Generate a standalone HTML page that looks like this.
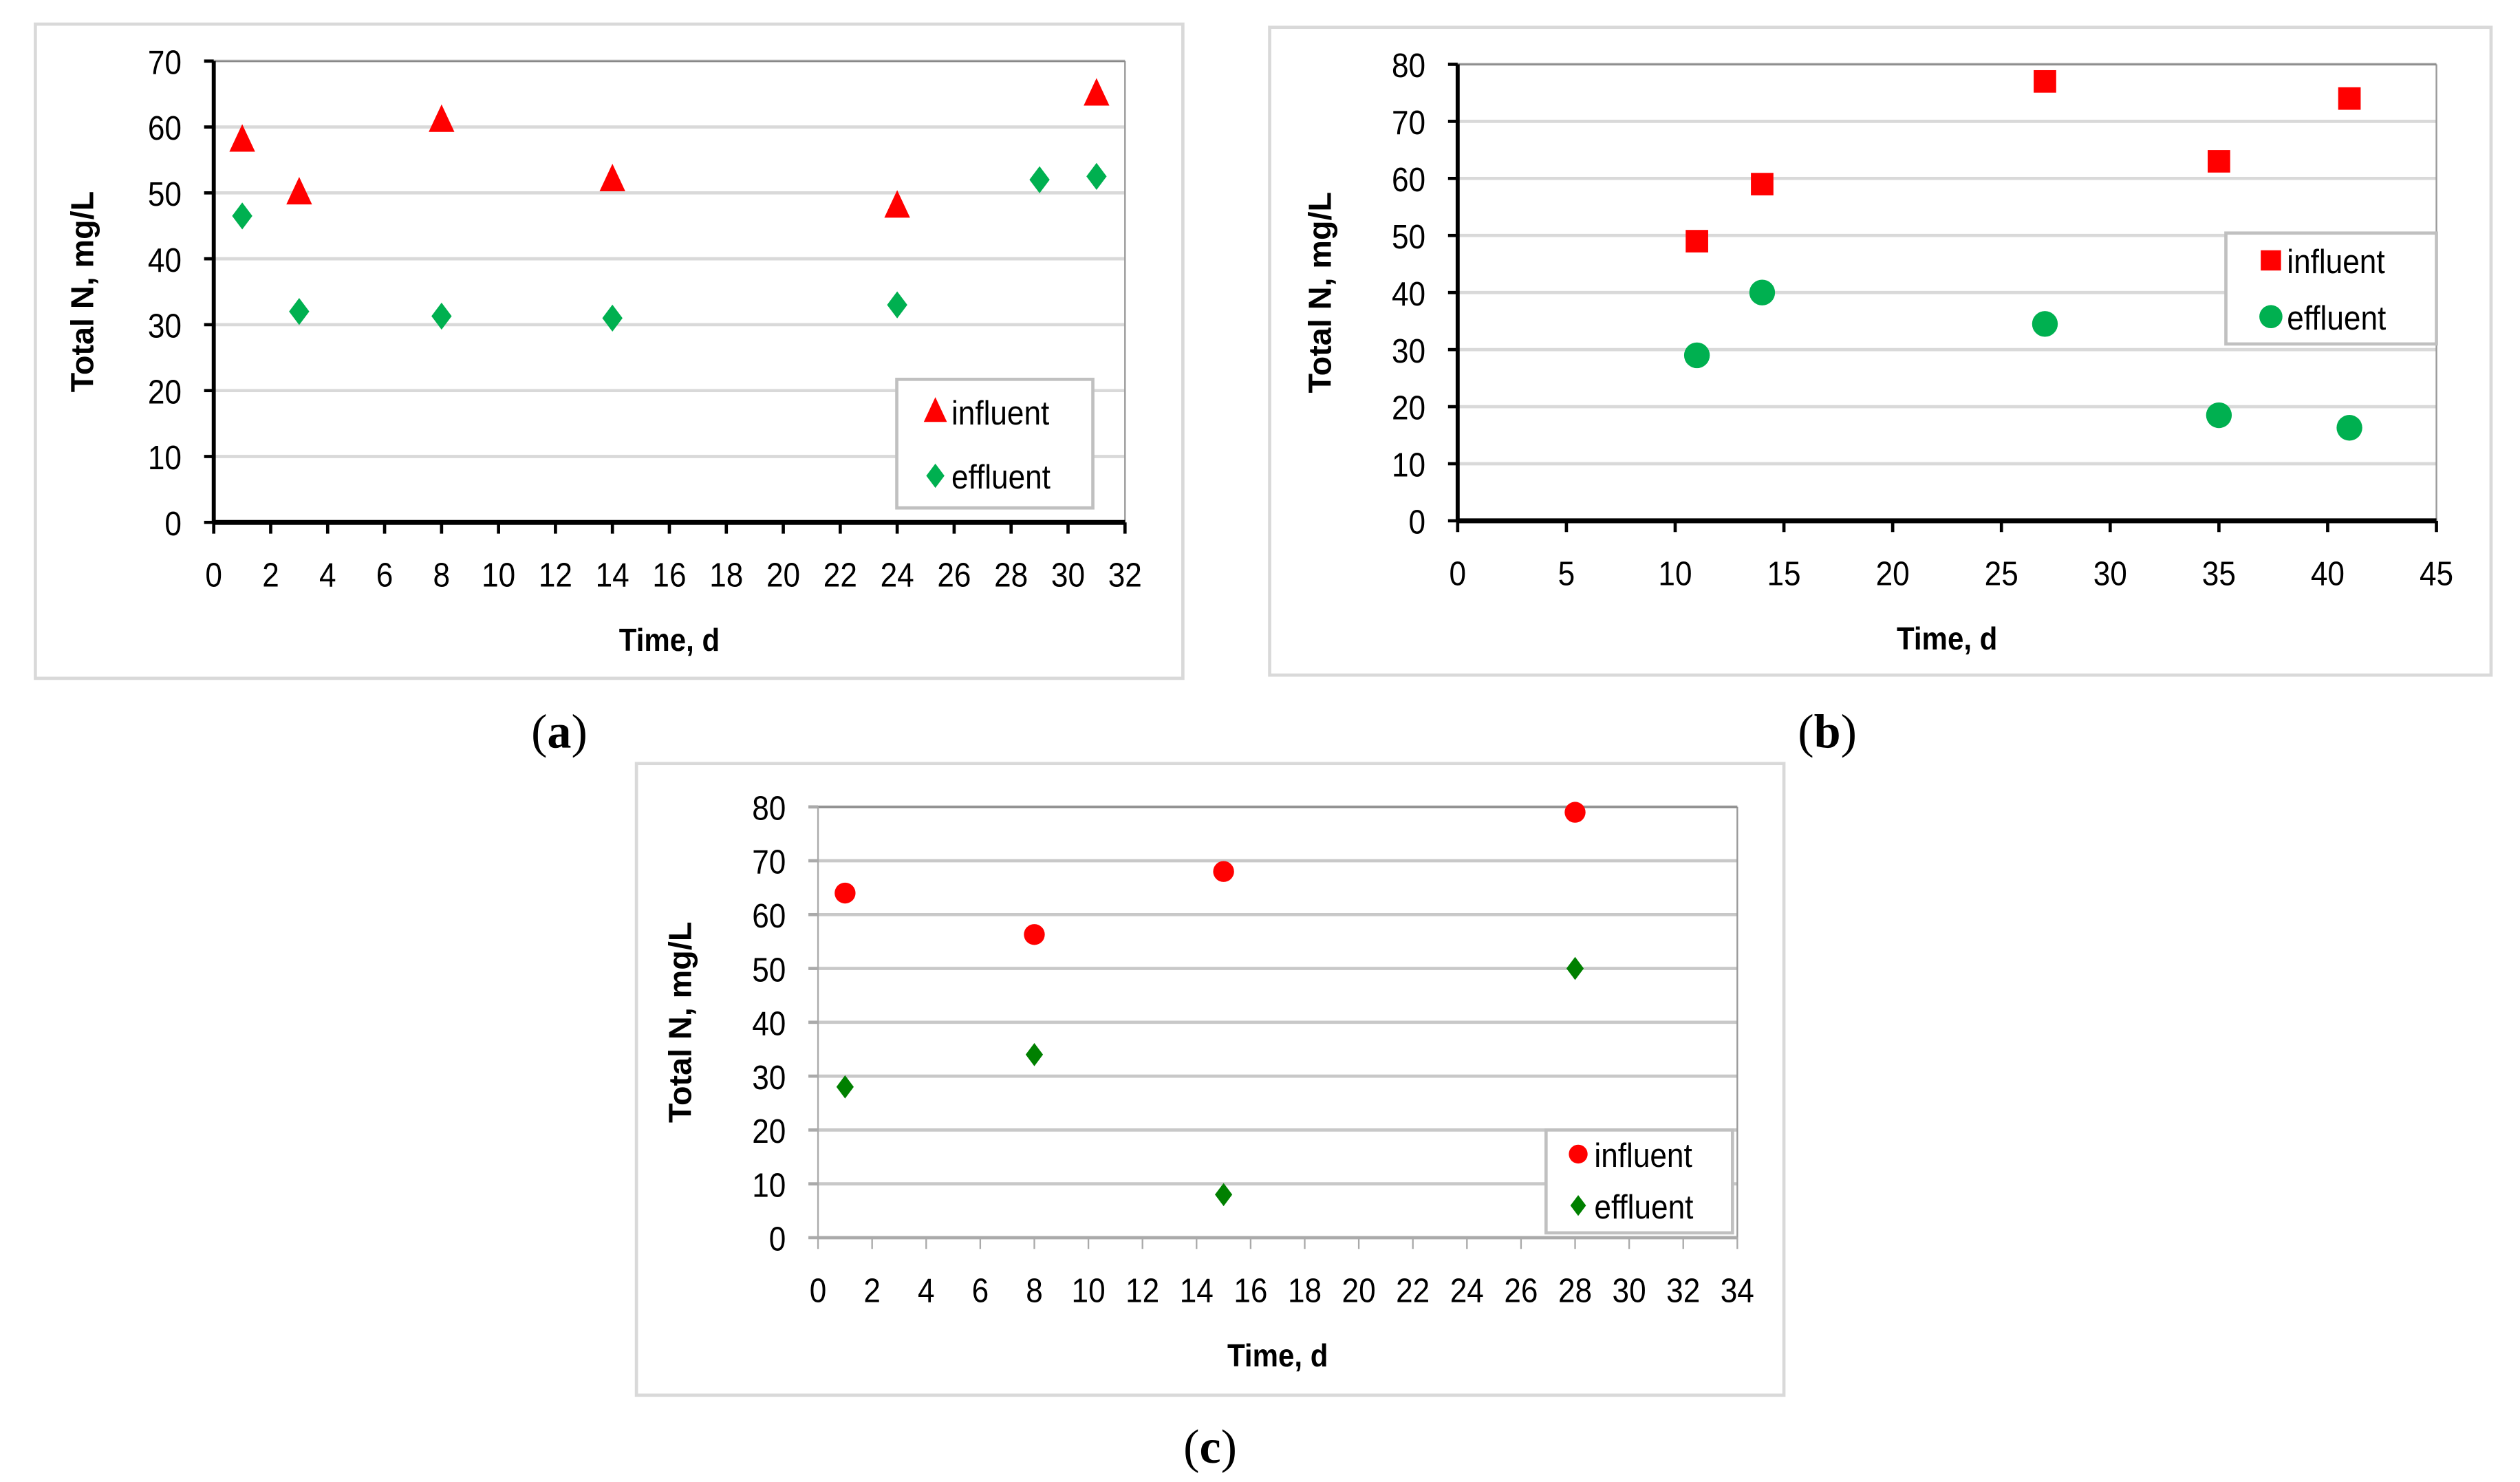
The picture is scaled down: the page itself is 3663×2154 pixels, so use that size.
<!DOCTYPE html>
<html><head><meta charset="utf-8">
<style>
html,body{margin:0;padding:0;background:#fff;}
svg{display:block;}
</style></head>
<body>
<svg id="fig" width="3663" height="2154" viewBox="0 0 1568 922" preserveAspectRatio="none" xmlns="http://www.w3.org/2000/svg" font-family="Liberation Sans, Arial, sans-serif"></svg>
<script>
// Panel (a)
const aInfX = [1, 3, 8, 14, 24, 31];
const aInfY = [58, 50, 61, 52, 48, 65];
const aEffX = [1, 3, 8, 14, 24, 29, 31];
const aEffY = [46.5, 32, 31.3, 31, 33, 52, 52.5];
const aXTicks = [0,2,4,6,8,10,12,14,16,18,20,22,24,26,28,30,32];
const aYTicks = [0,10,20,30,40,50,60,70];
// Panel (b)
const bInfX = [11, 14, 27, 35, 41];
const bInfY = [49, 59, 77, 63, 74];
const bEffX = [11, 14, 27, 35, 41];
const bEffY = [29, 40, 34.5, 18.5, 16.3];
const bXTicks = [0,5,10,15,20,25,30,35,40,45];
const bYTicks = [0,10,20,30,40,50,60,70,80];
// Panel (c)
const cInfX = [1, 8, 15, 28];
const cInfY = [64, 56.3, 68, 79];
const cEffX = [1, 8, 15, 28];
const cEffY = [28, 34, 8, 50];
const cXTicks = [0,2,4,6,8,10,12,14,16,18,20,22,24,26,28,30,32,34];
const cYTicks = [0,10,20,30,40,50,60,70,80];
const legendLabels = ['influent','effluent'];

const NS = 'http://www.w3.org/2000/svg';
const svg = document.getElementById('fig');
function mk(tag, attrs, parent, txt){
  const e = document.createElementNS(NS, tag);
  for (const k in attrs) e.setAttribute(k, attrs[k]);
  if (txt !== undefined) e.textContent = txt;
  (parent || svg).appendChild(e);
  return e;
}
function marker(g, shape, cx, cy, size, color){
  let e;
  if (shape === 'tri') {
    e = mk('polygon', {points: `${cx},${cy-size*0.62} ${cx-size*0.5},${cy+size*0.45} ${cx+size*0.5},${cy+size*0.45}`, fill: color}, g);
  } else if (shape === 'dia') {
    e = mk('polygon', {points: `${cx},${cy-size*0.6} ${cx+size*0.45},${cy} ${cx},${cy+size*0.6} ${cx-size*0.45},${cy}`, fill: color}, g);
  } else if (shape === 'sq') {
    e = mk('rect', {x: cx-size/2, y: cy-size/2, width: size, height: size, fill: color}, g);
  } else {
    e = mk('circle', {cx: cx, cy: cy, r: size/2, fill: color}, g);
  }
  return e;
}

function panel(p){
  const g = mk('g', {});
  
  
  const fr = mk('rect', {x: p.box[0], y: p.box[1], width: p.box[2]-p.box[0], height: p.box[3]-p.box[1], fill: '#fff', stroke: '#d9d9d9', 'stroke-width': 2}, g);
  
  
  const [L, T, R, B] = p.plot;
  const xs = v => L + (v - p.xmin) / (p.xmax - p.xmin) * (R - L);
  const ys = v => B - (v - p.ymin) / (p.ymax - p.ymin) * (B - T);
  p.yTicks.forEach(v => {
    const l = mk('line', {x1: L, x2: R, y1: ys(v), y2: ys(v), stroke: p.thin ? '#c8c8c8' : '#d9d9d9', 'stroke-width': 2}, g);
    
    
  });
  mk('line', {x1: R, x2: R, y1: T, y2: B, stroke: '#999', 'stroke-width': 1}, g);
  mk('line', {x1: L, x2: R, y1: T, y2: T, stroke: '#888', 'stroke-width': 1}, g);
  const axc = p.thin ? '#aaa' : '#000';
  const axw = p.thin ? 1 : 2.5;
  const ya = mk('line', {x1: L, x2: L, y1: T, y2: B, stroke: axc, 'stroke-width': axw}, g);
  
  
  const xa = mk('line', {x1: L, x2: R, y1: B, y2: B, stroke: axc, 'stroke-width': p.thin ? 2 : 3}, g);
  
  
  p.yTicks.forEach(v => {
    mk('line', {x1: L-6, x2: L, y1: ys(v), y2: ys(v), stroke: axc, 'stroke-width': 2}, g);
    const t = mk('text', {x: L-20, y: ys(v)+8, 'font-size': 21, 'text-anchor': 'end', fill: '#000', transform: `translate(${(L-20)*0.1} 0) scale(0.9 1)`}, g, v);
    
    
  });
  p.xTicks.forEach(v => {
    mk('line', {x1: xs(v), x2: xs(v), y1: B, y2: B+7, stroke: axc, 'stroke-width': p.thin ? 1 : 2}, g);
    const t = mk('text', {x: xs(v), y: B+40, 'font-size': 21, 'text-anchor': 'middle', fill: '#000', transform: `translate(${xs(v)*0.1} 0) scale(0.9 1)`}, g, v);
    
    
  });
  const xt = mk('text', {x: (L+R)/2, y: B+80, 'font-size': 20, 'font-weight': 'bold', 'text-anchor': 'middle', transform: `translate(${(L+R)/2*0.1} 0) scale(0.9 1)`}, g, 'Time, d');
  
  
  const yx = p.ytx, yy = (T+B)/2;
  const yt = mk('text', {x: yx, y: yy, 'font-size': 20, 'font-weight': 'bold', 'text-anchor': 'middle', transform: `rotate(-90 ${yx} ${yy})`}, g, 'Total N, mg/L');
  
  
  const [lx1, ly1, lx2, ly2] = p.leg;
  const lb = mk('rect', {x: lx1, y: ly1, width: lx2-lx1, height: ly2-ly1, fill: '#fff', stroke: '#c0c0c0', 'stroke-width': 2}, g);
  
  
  const series = [
    {x: p.infX, y: p.infY, shape: p.infShape, size: p.infSize, color: '#ff0000', name: 'influent'},
    {x: p.effX, y: p.effY, shape: p.effShape, size: p.effSize, color: p.effColor, name: 'effluent'}
  ];
  series.forEach((s, si) => {
    const sg = mk('g', {}, g);
    
    
    s.x.forEach((xv, i) => {
      const m = marker(sg, s.shape, xs(xv), ys(s.y[i]), s.size, s.color);
      
      
    });
    const ey = p.legY[si];
    const lm = marker(g, s.shape, lx1 + p.legMx, ey, s.size*0.9, s.color);
    
    
    const tx = lx1 + p.legMx + 10;
    const lt = mk('text', {x: tx, y: ey + 8, 'font-size': 21, transform: `translate(${tx*0.1} 0) scale(0.9 1)`}, g, legendLabels[si]);
    
    
  });
  const cap = mk('text', {x: p.cap[0], y: p.cap[1], 'font-size': 30, 'text-anchor': 'middle', 'font-family': 'Liberation Serif, serif'}, g);
  
  
  mk('tspan', {}, cap, '(');
  mk('tspan', {'font-weight': 'bold'}, cap, p.id);
  mk('tspan', {}, cap, ')');
}

panel({id:'a', box:[22,15,736,422], plot:[133,38,700,325], xmin:0, xmax:32, ymin:0, ymax:70,
  xTicks:aXTicks, yTicks:aYTicks, infX:aInfX, infY:aInfY, effX:aEffX, effY:aEffY,
  infShape:'tri', infSize:16, effShape:'dia', effSize:14, effColor:'#00b050',
  leg:[558,236,680,316], legY:[256,296], legMx:24, ytx:58, cap:[348,465]});
panel({id:'b', box:[790,17,1550,420], plot:[907,40,1516,324], xmin:0, xmax:45, ymin:0, ymax:80,
  xTicks:bXTicks, yTicks:bYTicks, infX:bInfX, infY:bInfY, effX:bEffX, effY:bEffY,
  infShape:'sq', infSize:14, effShape:'circ', effSize:16, effColor:'#00b050',
  leg:[1385,145,1516,214], legY:[162,197], legMx:28, ytx:828, cap:[1137,465]});
panel({id:'c', box:[396,475,1110,868], plot:[509,502,1081,770], xmin:0, xmax:34, ymin:0, ymax:80,
  xTicks:cXTicks, yTicks:cYTicks, infX:cInfX, infY:cInfY, effX:cEffX, effY:cEffY,
  infShape:'circ', infSize:13, effShape:'dia', effSize:12, effColor:'#008000', thin:true,
  leg:[962,703,1078,767], legY:[718,750], legMx:20, ytx:430, cap:[753,910]});
</script>
</body></html>
